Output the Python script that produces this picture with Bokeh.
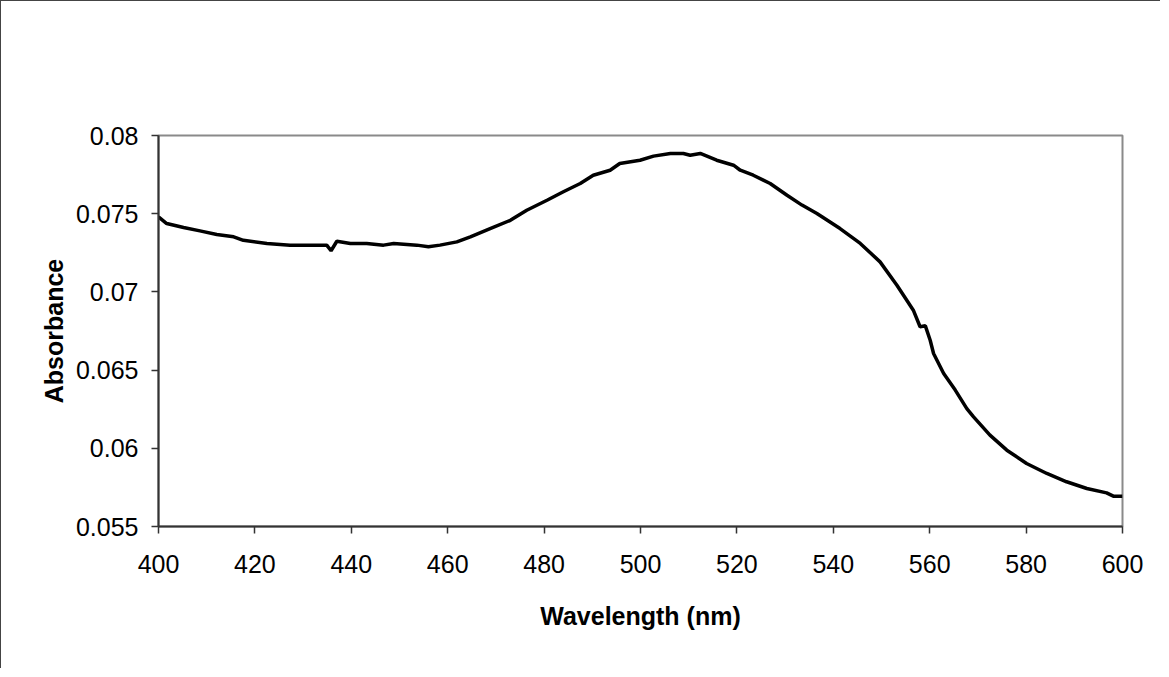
from bokeh.plotting import figure
from bokeh.models import FixedTicker, Range1d
from bokeh.embed import file_html
from bokeh.resources import INLINE

wavelength = [400, 401.7, 405.2, 408.6, 412.1, 415.6, 417.6, 422.5, 427.3, 432.0, 434.9,
              435.8, 437.0, 439.8, 443.2, 446.7, 448.8, 453.6, 456.0, 458.4, 461.9,
              464.7, 468.8, 473.0, 476.4, 480.6, 484.0, 487.5, 490.2, 493.7, 495.7,
              499.9, 502.7, 506.2, 508.9, 510.3, 512.4, 515.8, 519.3, 520.7, 523.4,
              526.9, 530.4, 533.5, 536.6, 541.4, 545.6, 549.7, 553.2, 556.6, 558.0,
              559.1, 560.1, 560.8, 562.9, 565.3, 567.7, 569.1, 572.5, 576.0, 580.1,
              584.3, 588.4, 592.6, 596.7, 598.1, 600]
absorbance = [0.0748, 0.07437, 0.07412, 0.0739, 0.07367, 0.07352, 0.0733, 0.0731, 0.07299, 0.07299, 0.07299,
              0.07263, 0.07324, 0.0731, 0.0731, 0.07299, 0.0731, 0.07299, 0.07289, 0.07299, 0.0732,
              0.07352, 0.07405, 0.07458, 0.07522, 0.07586, 0.0764, 0.07693, 0.07746, 0.07778, 0.07821,
              0.07842, 0.07868, 0.07885, 0.07885, 0.07874, 0.07885, 0.07842, 0.0781, 0.07778, 0.07746,
              0.07693, 0.07618, 0.07555, 0.07501, 0.07405, 0.0731, 0.07192, 0.07043, 0.06883, 0.06777,
              0.06783, 0.06691, 0.06606, 0.06478, 0.06372, 0.06254, 0.06201, 0.06084, 0.05988, 0.05903,
              0.05839, 0.05786, 0.05743, 0.05715, 0.05694, 0.05694]

x_ticks = [400, 420, 440, 460, 480, 500, 520, 540, 560, 580, 600]
y_ticks = [0.055, 0.06, 0.065, 0.07, 0.075, 0.08]
y_tick_labels = ["0.055", "0.06", "0.065", "0.07", "0.075", "0.08"]

FONT = "Liberation Sans"

p = figure(width=1160, height=668, output_backend="svg", toolbar_location=None,
           x_range=Range1d(400, 600), y_range=Range1d(0.055, 0.08),
           min_border_left=157, min_border_right=39, min_border_top=134, min_border_bottom=143)
p.styles = {"border-left": "1px solid #444", "border-top": "1px solid #444"}

p.line(wavelength, absorbance, line_color="black", line_width=3.5)

p.xgrid.visible = False
p.ygrid.visible = False
p.outline_line_color = "#8a8a8a"
p.outline_line_width = 2

for ax in (p.xaxis[0], p.yaxis[0]):
    ax.axis_line_color = "#333333"
    ax.axis_line_width = 2
    ax.major_tick_line_color = "#333333"
    ax.major_tick_line_width = 1.5
    ax.major_tick_in = 0
    ax.major_tick_out = 7
    ax.minor_tick_line_color = None
    ax.major_label_text_font = FONT
    ax.major_label_text_font_size = "25px"
    ax.major_label_text_color = "black"
    ax.axis_label_text_font = FONT
    ax.axis_label_text_font_size = "25px"
    ax.axis_label_text_font_style = "bold"
    ax.axis_label_text_color = "black"

p.xaxis[0].ticker = FixedTicker(ticks=x_ticks)
p.yaxis[0].ticker = FixedTicker(ticks=y_ticks)
p.yaxis[0].major_label_overrides = {t: s for t, s in zip(y_ticks, y_tick_labels)}
p.xaxis[0].axis_label = "Wavelength (nm)"
p.yaxis[0].axis_label = "Absorbance"
p.xaxis[0].major_label_standoff = 21
p.xaxis[0].axis_label_standoff = 26
p.yaxis[0].major_label_standoff = 13
p.yaxis[0].axis_label_standoff = 5

open("out.html", "w").write(file_html(p, INLINE))
